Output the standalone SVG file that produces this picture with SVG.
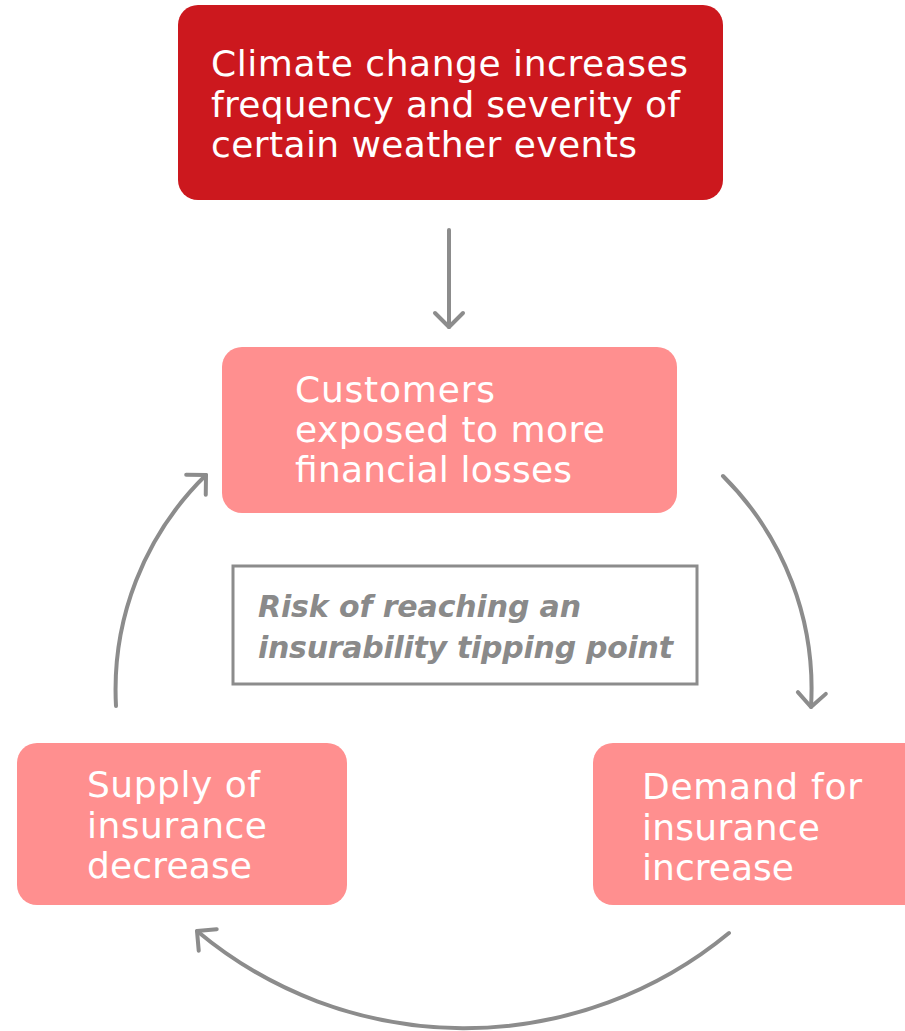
<svg xmlns="http://www.w3.org/2000/svg" width="905" height="1031" viewBox="0 0 905 1031">
  <style>
    .lbl { font-family: "DejaVu Sans", "Liberation Sans", sans-serif; font-size: 36px; fill: #ffffff; }
    .note { font-family: "DejaVu Sans", "Liberation Sans", sans-serif; font-size: 30px; font-weight: bold; font-style: italic; fill: #8a8a8a; }
    .pink { fill: #ff8f8f; }
    .edge { fill: none; stroke: #8c8c8c; stroke-width: 4; stroke-linecap: round; }
  </style>
  <defs>
    <marker id="chev" markerUnits="userSpaceOnUse" viewBox="-18 -18 22 36" refX="0" refY="0" markerWidth="22" markerHeight="36" orient="auto" overflow="visible">
      <path d="M -14 -14 L 0 0 L -14 14" fill="none" stroke="#8c8c8c" stroke-width="4" stroke-linecap="round" stroke-linejoin="round"/>
    </marker>
  </defs>

  <rect width="905" height="1031" fill="#ffffff"/>

  <!-- cycle connectors -->
  <g id="connectors">
    <path class="edge" d="M 449 230 L 449 327" marker-end="url(#chev)"/>
    <path class="edge" d="M 723 476 A 300 300 0 0 1 811 707" marker-end="url(#chev)"/>
    <path class="edge" d="M 729 933 A 416 416 0 0 1 197 931" marker-end="url(#chev)"/>
    <path class="edge" d="M 116 706 A 300 300 0 0 1 206 475" marker-end="url(#chev)"/>
  </g>

  <g id="node-climate">
    <rect x="178" y="5" width="545" height="195" rx="20" fill="#cc181e"/>
    <text class="lbl" x="211" y="76" textLength="477">Climate change increases</text>
    <text class="lbl" x="211" y="117" textLength="469">frequency and severity of</text>
    <text class="lbl" x="211" y="157" textLength="426">certain weather events</text>
  </g>

  <g id="node-customers">
    <rect class="pink" x="222" y="347" width="455" height="166" rx="20"/>
    <text class="lbl" x="295" y="402" textLength="200">Customers</text>
    <text class="lbl" x="295" y="442" textLength="310">exposed to more</text>
    <text class="lbl" x="295" y="482" textLength="277">financial losses</text>
  </g>

  <g id="node-risk">
    <rect x="233" y="566" width="464" height="118" fill="none" stroke="#8c8c8c" stroke-width="3"/>
    <text class="note" x="258" y="617" textLength="323">Risk of reaching an</text>
    <text class="note" x="258" y="658" textLength="415">insurability tipping point</text>
  </g>

  <g id="node-supply">
    <rect class="pink" x="17" y="743" width="330" height="162" rx="20"/>
    <text class="lbl" x="87" y="797" textLength="173">Supply of</text>
    <text class="lbl" x="87" y="838" textLength="180">insurance</text>
    <text class="lbl" x="87" y="878" textLength="165">decrease</text>
  </g>

  <g id="node-demand">
    <rect class="pink" x="593" y="743" width="340" height="162" rx="20"/>
    <text class="lbl" x="642" y="799" textLength="220">Demand for</text>
    <text class="lbl" x="642" y="840" textLength="178">insurance</text>
    <text class="lbl" x="642" y="880" textLength="152">increase</text>
  </g>
</svg>
